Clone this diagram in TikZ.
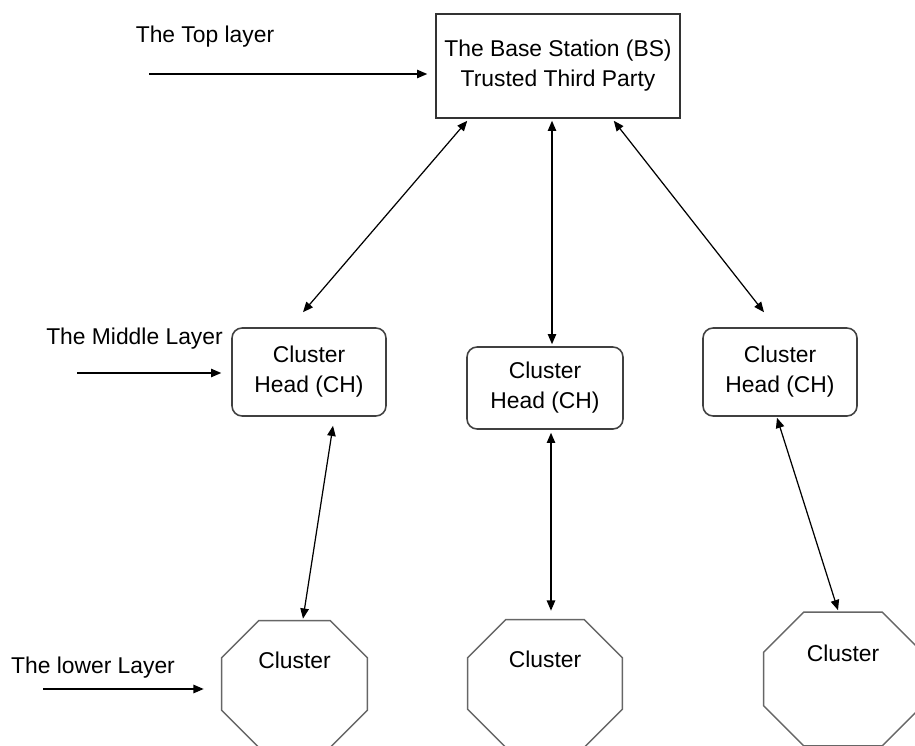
\documentclass[tikz,border=0pt]{standalone}
\usepackage{fontspec}
\setmainfont{Liberation Sans}
\usetikzlibrary{calc,arrows.meta}
\def\octagonframe(#1)(#2){\draw[octline] ($(#1.north west)+(#2,0)$) -- ($(#1.north east)+(-#2,0)$) -- ($(#1.north east)+(0,#2)$) -- ($(#1.south east)+(0,-#2)$) -- ($(#1.south east)+(-#2,0)$) -- ($(#1.south west)+(#2,0)$) -- ($(#1.south west)+(0,-#2)$) -- ($(#1.north west)+(0,#2)$) -- cycle;}
\tikzset{
  every node/.style={font=\fontsize{13}{17}\selectfont, align=center},
  bsbox/.style={draw=black!80, line width=0.9pt, minimum width=4.88cm, minimum height=2.08cm},
  headbox/.style={draw=black!75, line width=0.9pt, rounded corners=0.2cm, minimum width=3.08cm, minimum height=1.76cm},
  clusterbox/.style={text height=10pt, text depth=28pt},
  octline/.style={draw=black!60, line width=0.8pt},
  link/.style={line width=0.7pt, {Triangle[length=5.8pt,width=4.8pt]}-{Triangle[length=5.8pt,width=4.8pt]}},
  pointer/.style={line width=0.7pt, -{Triangle[length=5.8pt,width=4.8pt]}}
}
\begin{document}
\begin{tikzpicture}[x=0.02cm,y=-0.02cm]
		%%%%% START %%%%%
		\useasboundingbox (0,0) rectangle (915,746);
		
		\node[bsbox] (bs) at (558,66) {The Base Station (BS)\\Trusted Third Party};
		
		\node[headbox] (ch1) at (309,372) {Cluster\\Head (CH)};
		\node[headbox, minimum width=3.12cm, minimum height=1.64cm] (ch2) at (545,388) {Cluster\\Head (CH)};
		\node[headbox] (ch3) at (780,372) {Cluster\\Head (CH)};
		
		\node[clusterbox, minimum width=2.9cm, minimum height=2.52cm] (c1) at (294.5,684) {Cluster};
		\node[clusterbox, minimum width=3.08cm, minimum height=2.54cm] (c2) at (545,683.5) {Cluster};
		\node[clusterbox, minimum width=3.16cm, minimum height=2.66cm, text depth=30pt] (c3) at (843,679) {Cluster};
		\octagonframe(c1)(37)
		\octagonframe(c2)(38)
		\octagonframe(c3)(40)
		
		\node (toplbl) at (205,37) {The Top layer};
		\node (midlbl) at (134.5,339) {The Middle Layer};
		\node (lowlbl) at (93,668) {The lower Layer};
		
		\coordinate (toptail) at (149,74);
		\coordinate (midtail) at (77,373);
		\coordinate (lowtail) at (43,689);
		\draw[pointer] (toptail) -- ($(toptail -| bs.west)+(-8,0)$);
		\draw[pointer] (midtail) -- ($(midtail -| ch1.west)+(-10,0)$);
		\draw[pointer] (lowtail) -- ($(lowtail -| c1.west)+(-18,0)$);
		
		\draw[link] ($(bs.south west)+(32,2)$) -- ($(ch1.north)+(-6,-15)$);
		\draw[link] ($(bs.south)+(-6,2)$) -- ($(ch2.north)+(7,-2)$);
		\draw[link] ($(bs.south east)+(-67,2)$) -- ($(ch3.north)+(-16,-15)$);
		
		\draw[link] ($(ch1.south)+(24,9)$) -- ($(c1.north)+(8.5,-2)$);
		\draw[link] ($(ch2.south)+(6,3)$) -- ($(c2.north)+(6,-9)$);
		\draw[link] ($(ch3.south)+(-3,1)$) -- ($(c3.north)+(-5,-2)$);
		
		%%%%% END %%%%%
\end{tikzpicture}
\end{document}
